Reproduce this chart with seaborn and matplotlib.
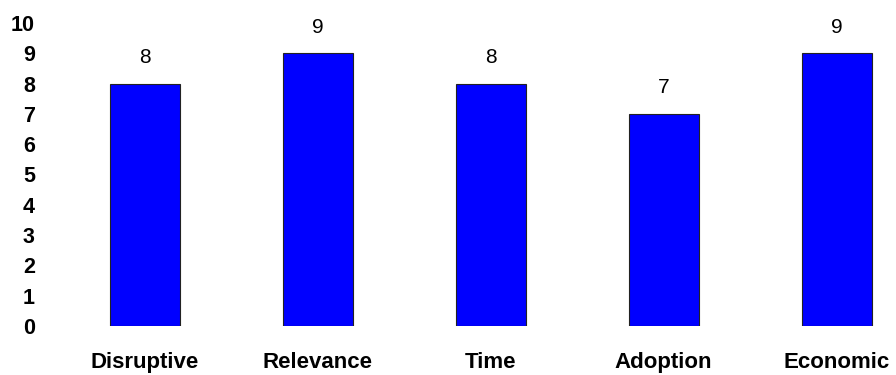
import matplotlib
matplotlib.use("Agg")
import matplotlib.pyplot as plt
import seaborn as sns
import pandas as pd

categories = ["Disruptive", "Relevance", "Time", "Adoption", "Economic"]
values = [8, 9, 8, 7, 9]
yticks = list(range(0, 11))

sns.set_theme(style="white")
plt.rcParams['font.family'] = ['Liberation Sans', 'DejaVu Sans']
plt.rcParams['text.color'] = 'black'
plt.rcParams['xtick.color'] = 'black'
plt.rcParams['ytick.color'] = 'black'

df = pd.DataFrame({"cat": categories, "val": values})

fig = plt.figure(figsize=(8.96, 3.75), dpi=100)
left = 58.5 / 896
bottom = (375 - 326) / 375
height = (326 - 23) / 375
width = 4.8 * 172.9 / 896
ax = fig.add_axes([left, bottom, width, height])

sns.barplot(data=df, x="cat", y="val", ax=ax, color="#0000FF", saturation=1,
            width=0.405, edgecolor="#222222", linewidth=0.8)

ax.set_xlim(-0.5, 4.3)
ax.set_ylim(0, 10)
ax.set_yticks(yticks)
ax.set_yticklabels([str(t) for t in yticks], fontsize=15.5, fontweight="bold", color="black")
ax.set_xticks(range(len(categories)))
ax.set_xticklabels(categories, fontsize=16, fontweight="bold", color="black")
ax.tick_params(axis="y", length=0, pad=17)
ax.tick_params(axis="x", length=0, pad=19)
ax.set_xlabel("")
ax.set_ylabel("")
for s in ax.spines.values():
    s.set_visible(False)

for i, v in enumerate(values):
    ax.annotate(str(v), xy=(i, v), xytext=(0, 12), textcoords="offset points",
                ha="center", va="bottom", fontsize=15, color="black")

fig.savefig("out.png", dpi=100, facecolor="white")
